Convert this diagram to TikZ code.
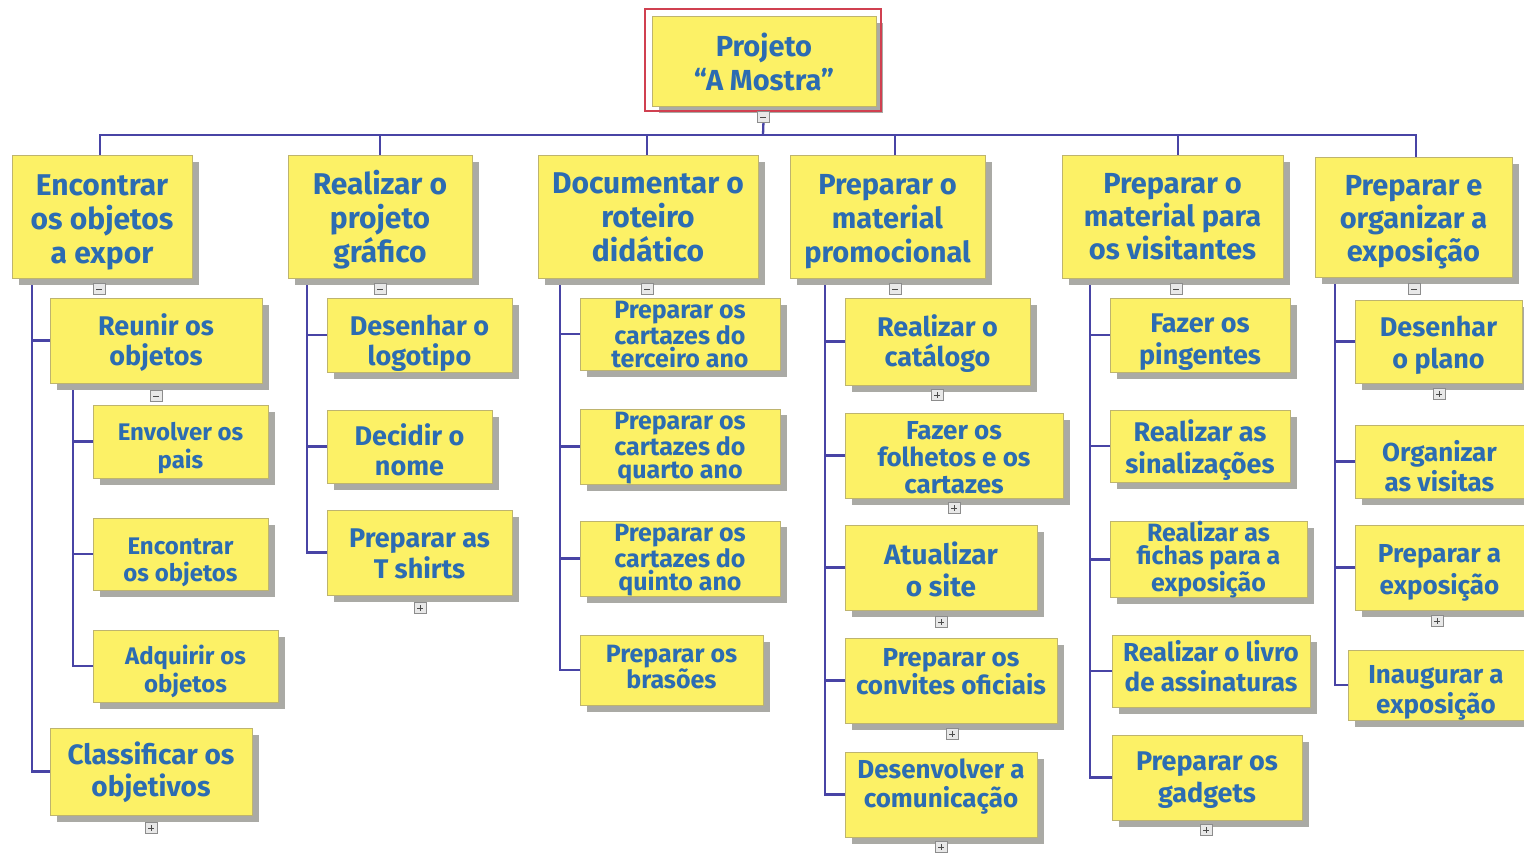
\documentclass[tikz,border=0pt]{standalone}
\usepackage{fontspec}
\setmainfont{Fira Sans}
\usetikzlibrary{shadows}

\definecolor{boxfill}{RGB}{252,241,102}
\definecolor{boxedge}{RGB}{190,180,110}
\definecolor{txtblue}{RGB}{44,108,178}
\definecolor{linkblue}{RGB}{72,68,165}
\definecolor{shadowgray}{RGB}{170,170,165}
\definecolor{selred}{RGB}{208,64,80}
\definecolor{togglefill}{RGB}{232,232,232}
\definecolor{toggleedge}{RGB}{140,140,140}

\pgfdeclarelayer{behind}
\pgfsetlayers{behind,main}

% strut opening the first line of a box text; with the strut that closes
% the last line it fixes where the text block sits inside its box
\def\boxA{20}
\newcommand\topfix{\rule{0pt}{\boxA pt}}

\tikzset{
  spanbox/.style n args={4}{minimum width={#3-#1}, minimum height={#4-#2},
    at={({(#1+#3)/2},{(#2+#4)/2})}},
  boxA/.code={\def\boxA{#1}},
  % font size, line spacing, height of the first line, depth of the last
  fz/.style n args={4}{font=\bfseries\fontsize{#1}{#2}\selectfont,
    boxA=#3, execute at end node={\rule[-#4pt]{0pt}{#4pt}}},
  task/.style={draw=boxedge, line width=0.7pt, fill=boxfill, text=txtblue,
    align=center, inner sep=0pt,
    drop shadow={shadow xshift=6.5pt, shadow yshift=-6.5pt, fill=shadowgray, opacity=1}},
  link/.style={draw=linkblue, line width=2.3pt},
  togglebox/.style={draw=toggleedge, fill=togglefill, line width=0.6pt,
    minimum width=12pt, minimum height=11pt, inner sep=0pt},
  minusbox/.style={togglebox, path picture={
    \draw[black!70, line width=1pt]
      ([xshift=3pt]path picture bounding box.west) --
      ([xshift=-3pt]path picture bounding box.east);}},
  plusbox/.style={togglebox, path picture={
    \draw[black!70, line width=1pt]
      ([xshift=3pt]path picture bounding box.west) --
      ([xshift=-3pt]path picture bounding box.east)
      ([yshift=-2.5pt]path picture bounding box.north) --
      ([yshift=2.5pt]path picture bounding box.south);}},
  selframe/.style={draw=selred, line width=2pt}
}

\begin{document}
\begin{tikzpicture}[x=1pt, y=-1pt]
\begin{pgfonlayer}{behind}
\fill[white] (0,0) rectangle (1524,855);
\end{pgfonlayer}
\useasboundingbox (0,0) rectangle (1524,855);

% ---- root ----
\node[task, spanbox={652}{16}{876}{106}, fz={29}{34}{26.3}{0}] (root) {\topfix Projeto\\“A Mostra”};
\draw[selframe] ([shift={(-7pt,7pt)}]root.north west) rectangle ([shift={(5pt,-5pt)}]root.south east);
\coordinate (bus) at (763,135);

% ---- level 1 ----
\node[task, spanbox={12}{155}{192}{278}, fz={30}{34}{32.2}{7.2}] (a1) {\topfix Encontrar\\os objetos\\a expor};
\node[task, spanbox={288}{155}{472}{278}, fz={30}{34}{30.2}{7.2}] (a2) {\topfix Realizar o\\projeto\\gráfico};
\node[task, spanbox={538}{155}{758}{278}, fz={30}{34}{23}{0}] (a3) {\topfix Documentar o\\roteiro\\didático};
\node[task, spanbox={790}{155}{985}{278}, fz={29}{34}{31.3}{7}] (a4) {\topfix Preparar o\\material\\promocional};
\node[task, spanbox={1062}{155}{1283}{278}, fz={29}{33}{21.75}{1.45}] (a5) {\topfix Preparar o\\material para\\os visitantes};
\node[task, spanbox={1315}{157}{1512}{277}, fz={29}{33}{31.3}{7}] (a6) {\topfix Preparar e\\organizar a\\exposição};

% ---- column 1 ----
\node[task, spanbox={50}{298}{262}{383}, fz={27}{30}{27.4}{6.5}] (b1) {\topfix Reunir os\\objetos};
\node[task, spanbox={93}{405}{268}{478}, fz={24}{28}{32.6}{5.8}] (b11) {\topfix Envolver os\\pais};
\node[task, spanbox={93}{518}{268}{590}, fz={24}{27}{34.6}{5.8}] (b12) {\topfix Encontrar\\os objetos};
\node[task, spanbox={93}{630}{278}{702}, fz={24}{28}{30.6}{5.8}] (b13) {\topfix Adquirir os\\objetos};
\node[task, spanbox={50}{728}{252}{815}, fz={28}{32}{24.3}{6.7}] (b2) {\topfix Classificar os\\objetivos};

% ---- column 2 ----
\node[task, spanbox={327}{298}{512}{372}, fz={27}{30}{37}{6.5}] (c1) {\topfix Desenhar o\\logotipo};
\node[task, spanbox={327}{410}{492}{483}, fz={27}{30}{28.9}{0}] (c2) {\topfix Decidir o\\nome};
\node[task, spanbox={327}{510}{512}{595}, fz={27}{31}{20.9}{0}] (c3) {\topfix Preparar as\\T shirts};

% ---- column 3 ----
\node[task, spanbox={580}{298}{780}{370}, fz={25}{23}{18.75}{1.25}] (d1) {\topfix Preparar os\\cartazes do\\terceiro ano};
\node[task, spanbox={580}{410}{780}{483}, fz={25}{23}{20.5}{6}] (d2) {\topfix Preparar os\\cartazes do\\quarto ano};
\node[task, spanbox={580}{522}{780}{595}, fz={25}{23}{20.5}{6}] (d3) {\topfix Preparar os\\cartazes do\\quinto ano};
\node[task, spanbox={580}{635}{763}{705}, fz={25}{24}{18.75}{7.25}] (d4) {\topfix Preparar os\\brasões};

% ---- column 4 ----
\node[task, spanbox={845}{298}{1030}{385}, fz={27}{30}{27.4}{6.5}] (e1) {\topfix Realizar o\\catálogo};
\node[task, spanbox={845}{413}{1063}{498}, fz={26}{27}{22.2}{0}] (e2) {\topfix Fazer os\\folhetos e os\\cartazes};
\node[task, spanbox={845}{525}{1037}{610}, fz={28}{32}{25.6}{0}] (e3) {\topfix Atualizar\\o site};
\node[task, spanbox={845}{638}{1057}{723}, fz={26}{28}{19.5}{19.3}] (e4) {\topfix Preparar os\\convites oficiais};
\node[task, spanbox={845}{752}{1037}{837}, fz={26}{29}{19.5}{22.3}] (e5) {\topfix Desenvolver a\\comunicação};

% ---- column 5 ----
\node[task, spanbox={1110}{298}{1290}{372}, fz={27}{32}{33.4}{6.5}] (f1) {\topfix Fazer os\\pingentes};
\node[task, spanbox={1110}{410}{1290}{482}, fz={27}{32}{29.4}{6.5}] (f2) {\topfix Realizar as\\sinalizações};
\node[task, spanbox={1110}{522}{1307}{597}, fz={25}{23}{18.75}{6.25}] (f3) {\topfix Realizar as\\fichas para a\\exposição};
\node[task, spanbox={1112}{635}{1310}{707}, fz={26}{30}{19.5}{9.3}] (f4) {\topfix Realizar o livro\\de assinaturas};
\node[task, spanbox={1112}{735}{1302}{820}, fz={27}{32}{25.4}{6.5}] (f5) {\topfix Preparar os\\gadgets};

% ---- column 6 ----
\node[task, spanbox={1355}{300}{1522}{383}, fz={27}{32}{29.4}{6.5}] (g1) {\topfix Desenhar\\o plano};
\node[task, spanbox={1355}{425}{1524}{498}, fz={26}{30}{30.2}{0}] (g2) {\topfix Organizar\\as visitas};
\node[task, spanbox={1355}{525}{1524}{610}, fz={26}{32}{28.4}{6.2}] (g3) {\topfix Preparar a\\exposição};
\node[task, spanbox={1348}{650}{1524}{720}, fz={26}{30}{33.4}{6.2}] (g4) {\topfix Inaugurar a\\exposição};

% ---- connectors, drawn behind the boxes ----
\begin{pgfonlayer}{behind}
\draw[link] (root.south) -- (bus);
\draw[link] (bus) -| ([xshift=-2pt]a1.north);
\draw[link] (bus) -| (a2.north);
\draw[link] (bus) -| ([xshift=-1pt]a3.north);
\draw[link] (bus) -| ([xshift=7.5pt]a4.north);
\draw[link] (bus) -| ([xshift=5.5pt]a5.north);
\draw[link] (bus) -| ([xshift=2.5pt]a6.north);

\foreach \c in {b1,b2}
  \draw[link] ([xshift=20pt]a1.south west) |- (\c.west);
\foreach \c in {b11,b12,b13}
  \draw[link] ([xshift=23pt]b1.south west) |- (\c.west);
\foreach \c in {c1,c2,c3}
  \draw[link] ([xshift=19pt]a2.south west) |- (\c.west);
\foreach \c in {d1,d2,d3,d4}
  \draw[link] ([xshift=22pt]a3.south west) |- (\c.west);
\foreach \c in {e1,e2,e3,e4,e5}
  \draw[link] ([xshift=35pt]a4.south west) |- (\c.west);
\foreach \c in {f1,f2,f3,f4,f5}
  \draw[link] ([xshift=28pt]a5.south west) |- (\c.west);
\foreach \c in {g1,g2,g3,g4}
  \draw[link] ([xshift=20pt]a6.south west) |- (\c.west);
\end{pgfonlayer}

% ---- expand / collapse toggles ----
\node[minusbox] (t0) at (763,117) {};
\node[minusbox] (ta1) at (99,289) {};
\node[minusbox] (ta2) at (380,289) {};
\node[minusbox] (ta3) at (647,289) {};
\node[minusbox] (ta4) at (895,289) {};
\node[minusbox] (ta5) at (1176,289) {};
\node[minusbox] (ta6) at (1414,289) {};
\node[minusbox] (tb1) at (156,396) {};
\node[plusbox] (tb2) at (151,828) {};
\node[plusbox] (tc3) at (420,608) {};
\node[plusbox] (te1) at (937,395) {};
\node[plusbox] (te2) at (954,508) {};
\node[plusbox] (te3) at (941,622) {};
\node[plusbox] (te4) at (952,734) {};
\node[plusbox] (te5) at (941,847) {};
\node[plusbox] (tf5) at (1206,830) {};
\node[plusbox] (tg1) at (1439,394) {};
\node[plusbox] (tg3) at (1437,621) {};
\end{tikzpicture}
\end{document}
